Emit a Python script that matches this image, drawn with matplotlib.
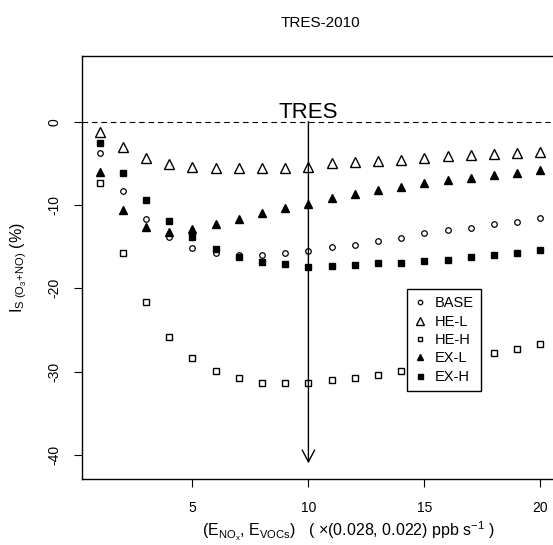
import matplotlib
matplotlib.use("Agg")
import matplotlib.pyplot as plt
import numpy as np

plt.rcParams['font.family'] = ['Liberation Sans', 'DejaVu Sans']
plt.rcParams['mathtext.fontset'] = 'custom'
plt.rcParams['mathtext.rm'] = 'Liberation Sans'
plt.rcParams['mathtext.it'] = 'Liberation Sans:italic'
plt.rcParams['axes.unicode_minus'] = False

# emission scaling factor (x) and sensitivity index (%) for each case
x = np.arange(1, 21)
base = [-3.8, -8.3, -11.7, -13.8, -15.2, -15.8, -16.0, -16.0, -15.8, -15.5,
        -15.0, -14.8, -14.3, -13.9, -13.4, -13.0, -12.7, -12.3, -12.0, -11.6]
he_l = [-1.2, -3.0, -4.3, -5.1, -5.4, -5.6, -5.6, -5.6, -5.5, -5.4,
        -5.0, -4.8, -4.7, -4.6, -4.3, -4.1, -4.0, -3.9, -3.7, -3.6]
he_h = [-7.4, -15.7, -21.6, -25.8, -28.3, -29.9, -30.8, -31.3, -31.4, -31.4,
        -31.0, -30.8, -30.4, -29.9, -29.4, -28.9, -28.3, -27.8, -27.3, -26.7]
ex_l = [-6.0, -10.6, -12.6, -13.2, -12.9, -12.3, -11.7, -11.0, -10.4, -9.9,
        -9.2, -8.7, -8.2, -7.8, -7.4, -7.0, -6.75, -6.4, -6.2, -5.85]
ex_h = [-2.5, -6.1, -9.4, -11.9, -13.8, -15.3, -16.2, -16.8, -17.1, -17.4,
        -17.3, -17.2, -17.0, -16.9, -16.7, -16.6, -16.2, -16.0, -15.7, -15.45]

tres_x = 10

fig = plt.figure(figsize=(5.53, 5.45), dpi=100)
ax = fig.add_axes([82/553, 66/545, 476/553, 423/545])

ax.axhline(0, color='black', lw=0.8, ls=(0, (5, 3.5)), zorder=1)

ax.plot(x, base, ls='none', marker='o', ms=4, mfc='white', mec='black', mew=0.9, label='BASE')
ax.plot(x, he_l, ls='none', marker='^', ms=7, mfc='white', mec='black', mew=1.0, label='HE-L')
ax.plot(x, he_h, ls='none', marker='s', ms=4, mfc='white', mec='black', mew=1.0, label='HE-H')
ax.plot(x, ex_l, ls='none', marker='^', ms=5.5, color='black', label='EX-L')
ax.plot(x, ex_h, ls='none', marker='s', ms=4.5, color='black', label='EX-H')

ax.annotate('', xy=(tres_x, -41), xytext=(tres_x, 0),
            arrowprops=dict(arrowstyle='->,head_length=0.85,head_width=0.45',
                            lw=1.0, color='black', shrinkA=0, shrinkB=0))
ax.text(tres_x, 0.4, 'TRES', ha='center', va='baseline', fontsize=16)

ax.set_xlim(0.24, 20.76)
ax.set_ylim(-42.88, 7.88)
ax.set_xticks([5, 10, 15, 20])
ax.set_yticks([0, -10, -20, -30, -40])
ax.tick_params(direction='out', length=6, width=0.8, labelsize=10)
ax.tick_params(axis='x', pad=10)
ax.tick_params(axis='y', pad=9)
for lab in ax.get_yticklabels():
    lab.set_rotation(90)
    lab.set_va('center')
for sp in ax.spines.values():
    sp.set_linewidth(1.0)

ax.set_title('TRES-2010', fontsize=11, pad=21)
ax.set_ylabel(r'I$_{\mathrm{S\ (O_3\!+\!NO)}}$ (%)', fontsize=11.5)
ax.yaxis.set_label_coords(-0.112, 0.5)
ax.set_xlabel(r'(E$_{\mathrm{NO_x}}$, E$_{\mathrm{VOCs}}$)   ( $\times$(0.028, 0.022) ppb s$^{-1}$ )',
              fontsize=11.5)
ax.xaxis.set_label_coords(0.56, -0.096)

leg = ax.legend(loc='upper left', bbox_to_anchor=(407/553, 1 - 289/545),
                bbox_transform=fig.transFigure, borderaxespad=0, fancybox=False,
                edgecolor='black', framealpha=1, fontsize=10.5, handlelength=0.8,
                handletextpad=0.6, labelspacing=0.3, borderpad=0.5, markerscale=0.8)
leg.get_frame().set_linewidth(1.0)

fig.savefig('out.png', dpi=100)
